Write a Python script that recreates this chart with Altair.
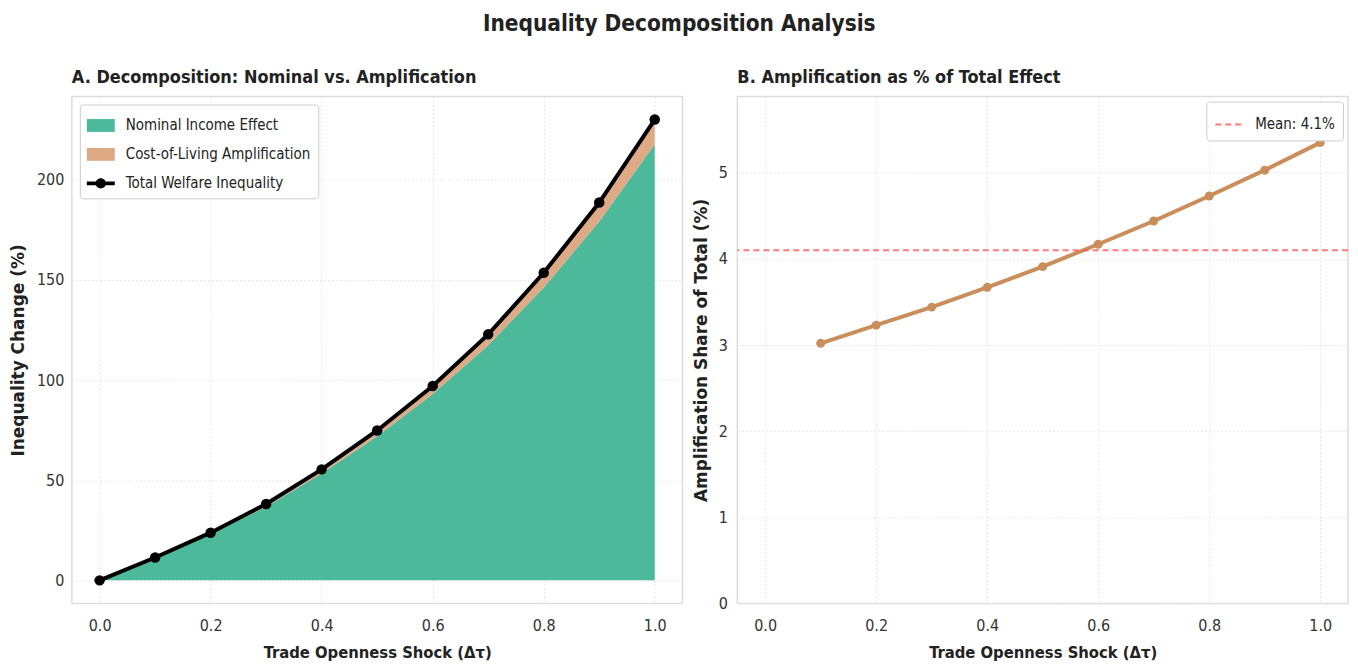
import altair as alt
import pandas as pd

# ---------------- data ----------------
shock = [0.0, 0.1, 0.2, 0.3, 0.4, 0.5, 0.6, 0.7, 0.8, 0.9, 1.0]
total_welfare = [0.0, 11.4, 23.8, 38.1, 55.4, 74.8, 97.0, 122.8, 153.5, 188.6, 230.0]
nominal_income = [0.0, 11.06, 23.03, 36.79, 53.37, 71.88, 92.96, 117.35, 146.24, 179.11, 217.7]

share_shock = [0.1, 0.2, 0.3, 0.4, 0.5, 0.6, 0.7, 0.8, 0.9, 1.0]
amp_share = [3.02, 3.23, 3.44, 3.67, 3.91, 4.17, 4.44, 4.73, 5.03, 5.35]

series_names = ["Nominal Income Effect", "Cost-of-Living Amplification", "Total Welfare Inequality"]
series_colors = ["#4cba9a", "#ddaa85", "#000000"]
x_ticks = [0.0, 0.2, 0.4, 0.6, 0.8, 1.0]
y_ticks_a = [0, 50, 100, 150, 200]
y_ticks_b = [0, 1, 2, 3, 4, 5]

COND = "DejaVu Sans Condensed, Liberation Sans Narrow, DejaVu Sans, sans-serif"
BOLD = "DejaVu Sans, sans-serif"

# ---------------- tables ----------------
band_rows = []
for x, n, t in zip(shock, nominal_income, total_welfare):
    band_rows.append({"x": x, "lo": 0.0, "hi": n, "series": series_names[0]})
    band_rows.append({"x": x, "lo": n, "hi": t, "series": series_names[1]})
bands = pd.DataFrame(band_rows)
tot = pd.DataFrame({"x": shock, "total": total_welfare, "series": series_names[2]})
shr = pd.DataFrame({"x": share_shock, "share": amp_share})
mean_share = sum(amp_share) / len(amp_share)
mean_label = f"Mean: {mean_share:.1f}%"
mean_df = pd.DataFrame({"mean": [mean_share], "label": [mean_label]})

W, H = 612, 508

xscale = alt.Scale(domain=[-0.05, 1.05], nice=False, zero=False)
xaxis = alt.Axis(values=x_ticks, format=".1f", title="Trade Openness Shock (Δτ)", labelPadding=14)

fill_scale = alt.Scale(domain=series_names, range=series_colors)
rect = "M-1,-0.46H1V0.46H-1Z"
line_dot = ("M-1,-0.14H-0.3V0.14H-1Z M0.3,-0.14H1V0.14H0.3Z "
            "M-0.37,0A0.37,0.37 0 1,1 0.37,0A0.37,0.37 0 1,1 -0.37,0Z")
shape_scale = alt.Scale(domain=series_names, range=[rect, rect, line_dot])

legend_a = alt.Legend(
    title=None, orient="top-left", offset=8, fillColor="white", strokeColor="#cccccc",
    cornerRadius=3, padding=7, labelFont=COND, labelFontSize=15, labelColor="#222222",
    symbolSize=784, rowPadding=7, labelOffset=11, symbolStrokeWidth=0, labelLimit=400,
)

yscale_a = alt.Scale(domain=[-11.5, 241.5], nice=False, zero=False)
yaxis_a = alt.Axis(values=y_ticks_a, title="Inequality Change (%)", labelPadding=8, titlePadding=9)

area = alt.Chart(bands).mark_area(opacity=1).encode(
    x=alt.X("x:Q", scale=xscale, axis=xaxis),
    y=alt.Y("hi:Q", scale=yscale_a, axis=yaxis_a),
    y2="lo:Q",
    fill=alt.Fill("series:N", scale=fill_scale, legend=legend_a),
)
legend_only = alt.Chart(tot).transform_filter("false").mark_point(filled=True, opacity=1).encode(
    x="x:Q",
    y="total:Q",
    fill=alt.Fill("series:N", scale=fill_scale, legend=legend_a),
    shape=alt.Shape("series:N", scale=shape_scale, legend=legend_a),
)
tline = alt.Chart(tot).mark_line(color="black", strokeWidth=4).encode(x="x:Q", y="total:Q")
tpts = alt.Chart(tot).mark_circle(color="black", size=110, opacity=1).encode(x="x:Q", y="total:Q")

left = alt.layer(area, legend_only, tline, tpts).properties(
    width=W, height=H,
    title=alt.TitleParams("A. Decomposition: Nominal vs. Amplification", anchor="start", frame="group",
                          font=COND, fontSize=18, fontWeight="bold", color="#222222", offset=10),
)

yscale_b = alt.Scale(domain=[0, 5.885], nice=False, zero=True)
yaxis_b = alt.Axis(values=y_ticks_b, format="d", title="Amplification Share of Total (%)",
                   labelPadding=10, titlePadding=8)

sline = alt.Chart(shr).mark_line(color="#c98e5a", strokeWidth=4).encode(
    x=alt.X("x:Q", scale=xscale, axis=xaxis),
    y=alt.Y("share:Q", scale=yscale_b, axis=yaxis_b),
)
spts = alt.Chart(shr).mark_circle(color="#c98e5a", size=80, opacity=1).encode(x="x:Q", y="share:Q")
legend_b = alt.Legend(
    title=None, orient="top-right", offset=5, fillColor="white", strokeColor="#cccccc",
    cornerRadius=3, padding=8, labelFont=COND, labelFontSize=15, labelColor="#222222",
    symbolSize=784, symbolStrokeWidth=2, labelOffset=11, labelLimit=400,
)
mrule = alt.Chart(mean_df).mark_rule(strokeWidth=2, opacity=0.75).encode(
    y="mean:Q",
    stroke=alt.Stroke("label:N", scale=alt.Scale(domain=[mean_label], range=["#ff4d4d"]), legend=legend_b),
    strokeDash=alt.StrokeDash("label:N", scale=alt.Scale(domain=[mean_label], range=[[6, 4]]), legend=legend_b),
)
right = alt.layer(sline, spts, mrule).properties(
    width=W, height=H,
    title=alt.TitleParams("B. Amplification as % of Total Effect", anchor="start", frame="group",
                          font=COND, fontSize=18, fontWeight="bold", color="#222222", offset=10),
)

chart = alt.hconcat(left, right, spacing=8).resolve_scale(
    fill="independent", shape="independent", stroke="independent", strokeDash="independent",
).resolve_legend(
    fill="independent", shape="independent", stroke="independent", strokeDash="independent",
).properties(
    padding={"top": 4, "left": 0, "right": 0, "bottom": 0},
    title=alt.TitleParams("Inequality Decomposition Analysis", anchor="middle", font=COND,
                          fontSize=22.5, fontWeight="bold", color="#222222", offset=32),
).configure_view(
    stroke="#dddddd", strokeWidth=1.5,
).configure_axis(
    domain=False, ticks=False, grid=True, gridColor="#e6e6e6", gridDash=[2, 2], gridWidth=1,
    labelFont=COND, labelFontSize=16, labelColor="#333333",
    titleFont=BOLD, titleFontSize=17, titleFontWeight="bold", titleColor="#222222",
).configure_axisX(
    titleFont=COND, titleFontSize=16.5, titlePadding=11,
)

chart.save("out.html", embed_options={"renderer": "svg", "actions": False})
